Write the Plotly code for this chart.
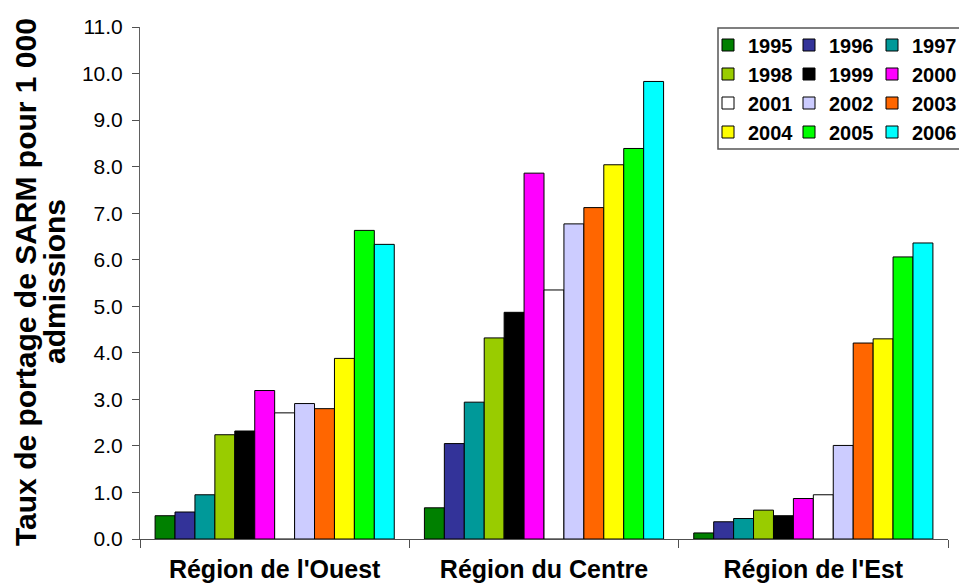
import plotly.graph_objects as go

# Regions on the category axis
regions = ["Région de l'Ouest", "Région du Centre", "Région de l'Est"]

# Years (one bar series per year)
years = ["1995", "1996", "1997", "1998", "1999", "2000",
         "2001", "2002", "2003", "2004", "2005", "2006"]

# Carriage rate per 1 000 admissions, by region, in year order
ouest = [0.50, 0.58, 0.95, 2.24, 2.32, 3.19, 2.71, 2.91, 2.80, 3.88, 6.63, 6.33]
centre = [0.67, 2.05, 2.94, 4.32, 4.87, 7.86, 5.35, 6.77, 7.12, 8.04, 8.39, 9.83]
est = [0.13, 0.37, 0.44, 0.62, 0.50, 0.87, 0.95, 2.01, 4.21, 4.30, 6.06, 6.36]

# Y axis tick values
y_ticks = [0, 1, 2, 3, 4, 5, 6, 7, 8, 9, 10, 11]

colors = ["#008000", "#333399", "#009999", "#99CC00", "#000000", "#FF00FF",
          "#FFFFFF", "#CCCCFF", "#FF6600", "#FFFF00", "#00FF00", "#00FFFF"]

FONT = "Arial, Liberation Sans, sans-serif"
W, H = 959, 584
ML, MR, MT, MB = 140, 11, 27, 45
PW, PH = W - ML - MR, H - MT - MB


def px_x(x):
    return (x - ML) / PW


def px_y(y):
    return (H - MB - y) / PH


fig = go.Figure()
legend_ids = ["legend", "legend2", "legend3"]
for i, yr in enumerate(years):
    fig.add_trace(go.Bar(
        x=regions,
        y=[ouest[i], centre[i], est[i]],
        name=yr,
        marker=dict(color=colors[i], line=dict(color="#000000", width=1)),
        legend=legend_ids[i % 3],
    ))

# Three legend columns laid side by side
legend_common = dict(
    orientation="v",
    xanchor="left",
    yanchor="top",
    bgcolor="rgba(0,0,0,0)",
    borderwidth=0,
    font=dict(family=FONT, size=20, color="#000000", weight="bold"),
    traceorder="normal",
)
fig.update_layout(
    legend=dict(x=px_x(708), y=px_y(25.5), **legend_common),
    legend2=dict(x=px_x(789), y=px_y(25.5), **legend_common),
    legend3=dict(x=px_x(872), y=px_y(25.5), **legend_common),
)

# Frame around the legend block
fig.add_shape(type="rect", xref="paper", yref="paper",
              x0=px_x(718), x1=px_x(975), y0=px_y(149), y1=px_y(28),
              line=dict(color="#555555", width=1.5), fillcolor="rgba(0,0,0,0)")

# Y axis title, two lines
fig.add_annotation(text="<b>Taux de portage de SARM pour 1 000</b>",
                   xref="paper", yref="paper", x=px_x(25), y=px_y(282),
                   xanchor="center", yanchor="middle", textangle=-90,
                   showarrow=False, font=dict(family=FONT, size=30, color="#000000"))
fig.add_annotation(text="<b>admissions</b>",
                   xref="paper", yref="paper", x=px_x(54), y=px_y(282),
                   xanchor="center", yanchor="middle", textangle=-90,
                   showarrow=False, font=dict(family=FONT, size=30, color="#000000"))

fig.update_layout(
    width=W, height=H,
    margin=dict(l=ML, r=MR, t=MT, b=MB, autoexpand=False),
    paper_bgcolor="#FFFFFF",
    plot_bgcolor="#FFFFFF",
    barmode="group",
    bargap=0.112,
    bargroupgap=0,
    showlegend=True,
    xaxis=dict(
        type="category",
        showline=True, linecolor="#505050", linewidth=1,
        ticks="outside", ticklen=8, tickcolor="#505050", tickwidth=1,
        tickson="boundaries",
        ticklabelstandoff=8,
        showgrid=False, zeroline=False,
        tickfont=dict(family=FONT, size=25, color="#000000", weight="bold"),
    ),
    yaxis=dict(
        range=[0, 11],
        tickvals=y_ticks,
        tickformat=".1f",
        showline=True, linecolor="#606060", linewidth=1,
        ticks="outside", ticklen=7, tickcolor="#505050", tickwidth=1,
        ticklabelstandoff=5,
        showgrid=False, zeroline=False,
        tickfont=dict(family=FONT, size=21, color="#000000"),
    ),
)

fig.write_html("out.html")
